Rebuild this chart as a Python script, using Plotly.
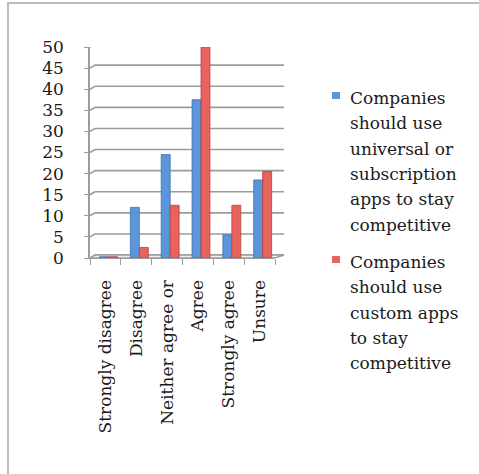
import plotly.graph_objects as go

# Survey responses (percent of respondents)
categories = ["Strongly disagree", "Disagree", "Neither agree or", "Agree",
              "Strongly agree", "Unsure"]
universal_apps = [0.3, 12, 24.5, 37.5, 5.5, 18.5]
custom_apps = [0.3, 2.5, 12.5, 50, 12.5, 20.5]

series_names = [
    ["Companies", "should use", "universal or", "subscription", "apps to stay", "competitive"],
    ["Companies", "should use", "custom apps", "to stay", "competitive"],
]
y_ticks = list(range(0, 51, 5))

W, H = 479, 474
L, R, T, B = 90, 275, 47, 258  # plot area edges in pixels

FONT = "DejaVu Serif"
BLUE = "#5b95dc"
RED = "#e8625e"
GRID = "#9c9c9c"


def px(x):
    return (x - L) / (R - L)


def py(y):
    return (B - y) / (B - T)


fig = go.Figure()

fig.add_trace(go.Bar(
    x=categories, y=universal_apps, name=" ".join(series_names[0]),
    marker=dict(color=BLUE, line=dict(color="#3d6fae", width=0.8)),
    width=0.29, offset=-0.19,
))
fig.add_trace(go.Bar(
    x=categories, y=custom_apps, name=" ".join(series_names[1]),
    marker=dict(color=RED, line=dict(color="#b8403d", width=0.8)),
    width=0.29, offset=0.1,
))

shapes = []
depth = 0.7  # vertical offset of the back wall in data units
# Gridlines drawn on the back wall with a short slanted lead-in from the axis
for v in y_ticks:
    shapes.append(dict(
        type="path", xref="paper", yref="y", layer="below",
        path=f"M 0,{v} L {px(95)},{v + depth} L {px(284)},{v + depth}",
        line=dict(color=GRID, width=1.6),
    ))
# Floor of the plot
shapes.append(dict(
    type="path", xref="paper", yref="y", layer="below",
    path=f"M 0,0 L {px(95)},{depth} L {px(284)},{depth} L 1,0 Z",
    fillcolor="#f0f0f0", line=dict(color=GRID, width=1.4),
))
# Frame around the chart area
shapes.append(dict(
    type="path", xref="paper", yref="paper",
    path=f"M {px(8)},{py(480)} L {px(8)},{py(3)} L {px(485)},{py(3)}",
    line=dict(color="#bdbdbd", width=2),
))

# Legend: colour keys and wrapped labels
annotations = []
legend_tops = [98, 262]
colors = [BLUE, RED]
for lines, top, col in zip(series_names, legend_tops, colors):
    shapes.append(dict(
        type="rect", xref="paper", yref="paper",
        x0=px(332), x1=px(340), y0=py(top - 6), y1=py(top + 1),
        fillcolor=col, line=dict(width=0),
    ))
    for i, line in enumerate(lines):
        annotations.append(dict(
            xref="paper", yref="paper", x=px(348), y=py(top + i * 25.3),
            text=line, showarrow=False, xanchor="left", yanchor="middle",
            font=dict(family=FONT, size=17, color="#1a1a1a"),
        ))

fig.update_layout(
    width=W, height=H,
    margin=dict(l=L, r=W - R, t=T, b=H - B, pad=0),
    paper_bgcolor="white", plot_bgcolor="rgba(0,0,0,0)",
    showlegend=False,
    barmode="group",
    font=dict(family=FONT, size=17, color="#1a1a1a"),
    shapes=shapes, annotations=annotations,
    xaxis=dict(
        type="category", tickangle=-90, showgrid=False,
        showline=True, linecolor=GRID, linewidth=1.4,
        ticks="outside", tickson="boundaries", ticklen=6, tickcolor=GRID,
        tickwidth=1.4, tickfont=dict(family=FONT, size=17),
        ticklabelstandoff=14,
        range=[-0.5, 5.5],
    ),
    yaxis=dict(
        range=[0, 50], tickvals=y_ticks, showgrid=False, zeroline=False,
        showline=True, linecolor=GRID, linewidth=1.6,
        ticks="outside", ticklen=4, tickcolor=GRID, tickwidth=1.4,
        tickfont=dict(family=FONT, size=17),
        ticklabelstandoff=17,
    ),
)

fig.write_html("out.html")
